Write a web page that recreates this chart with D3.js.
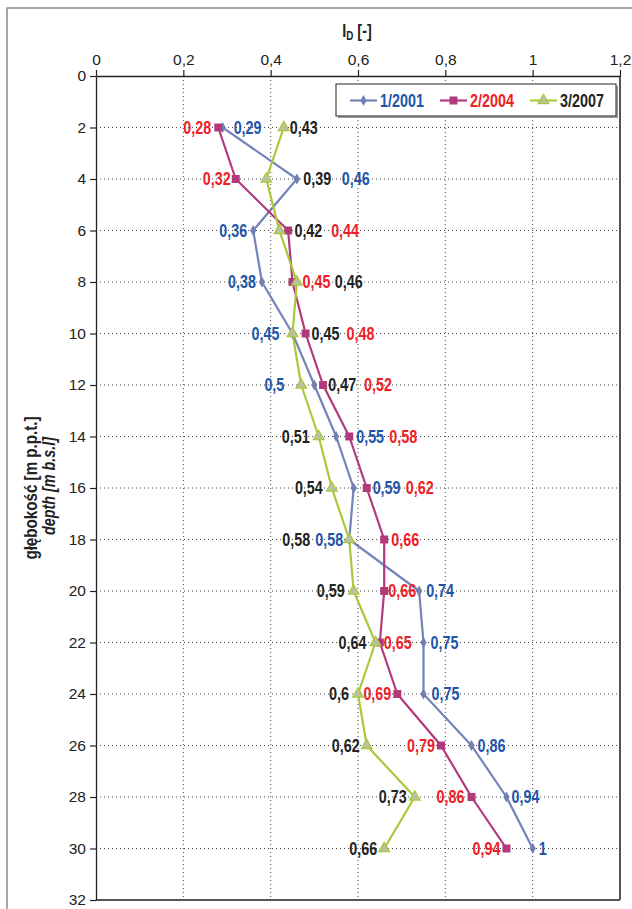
<!DOCTYPE html>
<html><head><meta charset="utf-8">
<script src="https://cdn.jsdelivr.net/npm/d3@7"></script>
<style>
html,body{margin:0;padding:0;background:#fff;}
svg{display:block;}
</style></head>
<body>
<svg id="c" width="632" height="909"></svg>
<script>
// ---- data ----
const depths = [2,4,6,8,10,12,14,16,18,20,22,24,26,28,30];
const series2001 = [0.29,0.46,0.36,0.38,0.45,0.5,0.55,0.59,0.58,0.74,0.75,0.75,0.86,0.94,1];
const series2004 = [0.28,0.32,0.44,0.45,0.48,0.52,0.58,0.62,0.66,0.66,0.65,0.69,0.79,0.86,0.94];
const series2007 = [0.43,0.39,0.42,0.46,0.45,0.47,0.51,0.54,0.58,0.59,0.64,0.6,0.62,0.73,0.66];
const seriesNames = ["1/2001","2/2004","3/2007"];
const xTicks = [0,0.2,0.4,0.6,0.8,1,1.2];
const yTicks = [0,2,4,6,8,10,12,14,16,18,20,22,24,26,28,30,32];

// label placement (px offset from marker; negative = text ends left of marker)
const labelDx2001 = [11,45,-6,-6,-13,-30,20,19,-6,7,7,8,6,5,6];
const labelDx2004 = [-7,-5,43,10,41,41,40,39,7,4,4,-6,-6,-7,-6];
const labelDx2007 = [6,37,15,38,19,27,-9,-9,-39,-9,-9,-9,-7,-8,-7];

const W=632,H=909;
const SQ=0.82; // horizontal condensing factor (narrow face)
const svg=d3.select("#c");
const x=d3.scaleLinear().domain([0,1.2]).range([96,620]);
const y=d3.scaleLinear().domain([0,32]).range([76,900]);
const fmt=v=>String(+v.toFixed(2)).replace(".",",");
const sans='"Liberation Sans",Arial,sans-serif';

// condensed text helper
function ctext(parent,px,py,str,o){
  o=o||{};
  const t=parent.append("text")
    .attr("transform",`translate(${px},${py})${o.rot?` rotate(${o.rot})`:""} scale(${SQ},1)`)
    .attr("text-anchor",o.anchor||"start")
    .attr("font-family",sans).attr("font-weight",o.weight||"bold")
    .attr("font-style",o.style||"normal")
    .attr("font-size",o.size||17.5).attr("fill",o.fill||"#222");
  if(o.dy) t.attr("dy",o.dy);
  if(str!==null) t.text(str);
  return t;
}

// outer frame
svg.append("rect").attr("x",7).attr("y",8).attr("width",W+10).attr("height",H+10)
  .attr("fill","none").attr("stroke","#8a8a8a").attr("stroke-width",1.5);

// grid
const g=svg.append("g");
g.selectAll(".vg").data(xTicks.slice(1,-1)).join("line")
  .attr("x1",d=>x(d)).attr("x2",d=>x(d)).attr("y1",y(0)).attr("y2",y(32))
  .attr("stroke","#444").attr("stroke-width",1).attr("stroke-dasharray","1,3");
g.selectAll(".hg").data(yTicks.slice(1,-1)).join("line")
  .attr("y1",d=>y(d)).attr("y2",d=>y(d)).attr("x1",x(0)).attr("x2",x(1.2))
  .attr("stroke","#444").attr("stroke-width",1).attr("stroke-dasharray","1,3");

// plot border
svg.append("line").attr("x1",x(1.2)).attr("x2",x(1.2)).attr("y1",y(0)).attr("y2",y(32))
  .attr("stroke","#555").attr("stroke-width",2);
svg.append("line").attr("x1",x(0)).attr("x2",x(1.2)).attr("y1",y(32)).attr("y2",y(32))
  .attr("stroke","#555").attr("stroke-width",2);

// axes
const ax=svg.append("g").attr("transform",`translate(0,${y(0)})`)
  .call(d3.axisTop(x).tickValues(xTicks).tickSize(6).tickSizeOuter(0).tickFormat(fmt));
const ay=svg.append("g").attr("transform",`translate(${x(0)},0)`)
  .call(d3.axisLeft(y).tickValues(yTicks).tickSize(6).tickSizeOuter(0).tickFormat(d=>d));
[ax,ay].forEach(a=>{
  a.select(".domain").attr("stroke","#222").attr("stroke-width",1.3);
  a.selectAll(".tick line").attr("stroke","#222").attr("stroke-width",1.2);
  a.selectAll(".tick text").attr("font-family",sans).attr("font-size",15.5).attr("fill","#222");
});
ax.selectAll(".tick text").attr("dy","-0.1em");
ay.selectAll(".tick text").attr("x",-10);

// axis titles
const t=ctext(svg,357,37,null,{anchor:"middle",size:17.5});
t.append("tspan").text("I");
t.append("tspan").attr("font-size",12).attr("dy",3).text("D");
t.append("tspan").attr("dy",-3).text(" [-]");

ctext(svg,36.5,488,"głębokość [m p.p.t.]",{anchor:"middle",rot:-90,size:18.5});
ctext(svg,54.5,486,"depth [m b.s.l]",{anchor:"middle",rot:-90,size:17.5,style:"italic"});

// series
const seriesDefs=[
  {name:seriesNames[0],vals:series2001,dx:labelDx2001,line:"#7483b8",lab:"#1f55a8",sym:d3.symbolDiamond,size:34,mfill:"#7080b3",mstroke:"none"},
  {name:seriesNames[1],vals:series2004,dx:labelDx2004,line:"#b23a7c",lab:"#ee2026",sym:d3.symbolSquare,size:64,mfill:"#b23a7c",mstroke:"none"},
  {name:seriesNames[2],vals:series2007,dx:labelDx2007,line:"#a9c93a",lab:"#222",sym:d3.symbolTriangle,size:50,mfill:"#b9c2a0",mstroke:"#a9c93a"}
];
const lineGen=d3.line().x(d=>x(d[0])).y(d=>y(d[1]));
seriesDefs.forEach(s=>{
  const pts=s.vals.map((v,i)=>[v,depths[i]]);
  svg.append("path").datum(pts).attr("d",lineGen).attr("fill","none")
    .attr("stroke",s.line).attr("stroke-width",2.2).attr("stroke-linejoin","round");
});
seriesDefs.forEach(s=>{
  const pts=s.vals.map((v,i)=>[v,depths[i]]);
  svg.append("g").selectAll("path").data(pts).join("path")
    .attr("transform",d=>`translate(${x(d[0])},${y(d[1])})`)
    .attr("d",d3.symbol(s.sym,s.size)).attr("fill",s.mfill)
    .attr("stroke",s.mstroke).attr("stroke-width",1.2);
});
seriesDefs.forEach(s=>{
  const lg=svg.append("g");
  s.vals.forEach((v,i)=>{
    ctext(lg,x(v)+s.dx[i],y(depths[i]),fmt(v),
      {anchor:s.dx[i]<0?"end":"start",dy:"0.36em",fill:s.lab,size:17.5});
  });
});

// legend
const lg=svg.append("g");
lg.append("rect").attr("x",338).attr("y",86).attr("width",280).attr("height",32).attr("fill","#999");
lg.append("rect").attr("x",336).attr("y",84).attr("width",280).attr("height",32)
  .attr("fill","#fff").attr("stroke","#555").attr("stroke-width",1.3);
const legX=[350,440,530];
seriesDefs.forEach((s,i)=>{
  const it=lg.append("g").attr("transform",`translate(${legX[i]},100.5)`);
  it.append("line").attr("x1",0).attr("x2",27).attr("stroke",s.line).attr("stroke-width",2.2);
  it.append("path").attr("transform","translate(13.5,0)").attr("d",d3.symbol(s.sym,s.size)).attr("fill",s.mfill)
    .attr("stroke",s.mstroke).attr("stroke-width",1.2);
  ctext(it,30,0,s.name,{dy:"0.36em",fill:s.lab,size:17.5});
});
</script>
</body></html>
